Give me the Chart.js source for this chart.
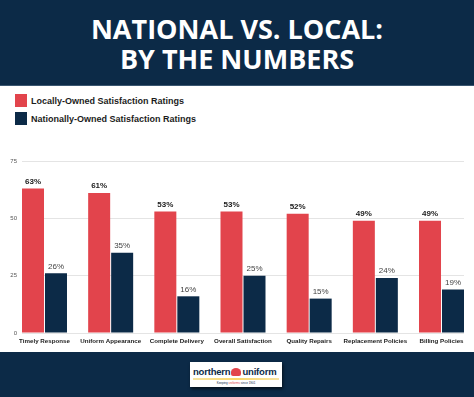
<!DOCTYPE html>
<html>
<head>
<meta charset="utf-8">
<script src="https://cdn.jsdelivr.net/npm/chart.js@4.4.1/dist/chart.umd.min.js"></script>
<style>
  body { margin: 0; width: 474px; height: 397px; position: relative; overflow: hidden; background: #fff; font-family: "Liberation Sans", Arial, sans-serif; }
  #header { position: absolute; left: 0; top: 0; width: 474px; height: 86px; background: #0c2a47; border-bottom: 1px solid #3a5670; box-sizing: border-box; }
  #header div { position: absolute; left: 0; width: 474px; text-align: center; color: #fff; font-family: "Open Sans", sans-serif; font-weight: 700; font-size: 27px; line-height: 30px; }
  #legend { position: absolute; left: 15px; top: 94px; }
  .item { position: relative; height: 18px; }
  .box { position: absolute; left: 0; top: 0; width: 12px; height: 13px; }
  .item span { position: absolute; left: 16px; top: 1px; font-size: 9px; font-weight: 700; color: #1c1c1c; white-space: nowrap; line-height: 12px; }
  #wrap { position: absolute; left: 0; top: 145px; width: 474px; height: 207px; }
  #footer { position: absolute; left: 0; top: 352px; width: 474px; height: 45px; background: #0c2a47; }
  #logo { position: absolute; left: 190px; top: 10px; width: 92px; height: 25px; background: #fff; box-shadow: 1px 2px 3px rgba(0,0,0,0.6); }
  #logo .name { position: absolute; left: 3px; top: 4px; font-size: 9.5px; font-weight: 700; color: #0c2a47; white-space: nowrap; letter-spacing: -0.2px; }
  #logo .mark { display: inline-block; width: 10px; height: 8px; background: #e2444c; border-radius: 50% 50% 2px 2px; margin: 0 1px; vertical-align: -1px; }
  #logo .strip { position: absolute; left: 3px; top: 16px; width: 86px; height: 2px; background: linear-gradient(90deg, #f6e3a0, #fbd66a, #f6e3a0); }
  #logo .tag { position: absolute; left: 0; top: 19px; width: 92px; text-align: center; font-size: 3px; color: #0c2a47; white-space: nowrap; }
</style>
</head>
<body>
<div id="header">
  <div style="top:14px">NATIONAL VS. LOCAL:</div>
  <div style="top:44px">BY THE NUMBERS</div>
</div>
<div id="legend">
  <div class="item"><div class="box" style="background:#e2444c"></div><span>Locally-Owned Satisfaction Ratings</span></div>
  <div class="item"><div class="box" style="background:#0c2a47"></div><span>Nationally-Owned Satisfaction Ratings</span></div>
</div>
<div id="wrap"><canvas id="chart" width="474" height="207"></canvas></div>
<div id="footer">
  <div id="logo">
    <div class="name">northern<span class="mark"></span>uniform</div>
    <div class="strip"></div>
    <div class="tag">Keeping <span style="color:#e2444c">uniforms</span> since 1901</div>
  </div>
</div>
<script>
var categories = ['Timely Response', 'Uniform Appearance', 'Complete Delivery', 'Overall Satisfaction', 'Quality Repairs', 'Replacement Policies', 'Billing Policies'];
var locallyOwned = [63, 61, 53, 53, 52, 49, 49];
var nationallyOwned = [26, 35, 16, 25, 15, 24, 19];
var yTicks = [0, 25, 50, 75];

var red = '#e2444c';
var navy = '#0c2a47';
var edge = 0.34; // half a bar pair, in category units

function points(values) {
    return values.map(function (v, i) { return { x: i, y: v }; });
}

// value labels above each bar
var valueLabels = {
    id: 'valueLabels',
    afterDatasetsDraw: function (chart) {
        var ctx = chart.ctx;
        ctx.save();
        ctx.textAlign = 'center';
        ctx.textBaseline = 'bottom';
        chart.data.datasets.forEach(function (ds, di) {
            var meta = chart.getDatasetMeta(di);
            ctx.font = (di === 0 ? 'bold ' : '') + '8px "Liberation Sans", Arial, sans-serif';
            ctx.fillStyle = di === 0 ? '#1b1b1b' : '#444';
            meta.data.forEach(function (bar, i) {
                ctx.fillText(ds.data[i].y + '%', bar.x, bar.y - 3);
            });
        });
        ctx.restore();
    }
};

var ctx = document.getElementById('chart').getContext('2d');
var myBarChart = new Chart(ctx, {
    type: 'bar',
    data: {
        datasets: [{
            label: 'Locally-Owned Satisfaction Ratings',
            data: points(locallyOwned),
            backgroundColor: red
        }, {
            label: 'Nationally-Owned Satisfaction Ratings',
            data: points(nationallyOwned),
            backgroundColor: navy
        }]
    },
    options: {
        responsive: false,
        animation: false,
        categoryPercentage: 0.695,
        barPercentage: 0.957,
        layout: { padding: { top: 16, right: 10, left: 0, bottom: 0 } },
        plugins: { legend: { display: false }, tooltip: { enabled: false } },
        scales: {
            x: {
                type: 'linear',
                offset: false,
                min: -edge,
                max: categories.length - 1 + edge,
                grid: { display: false, drawTicks: false, offset: false },
                border: { display: false },
                afterBuildTicks: function (scale) {
                    scale.ticks = categories.map(function (c, i) { return { value: i }; });
                    scale.min = -edge;
                    scale.max = categories.length - 1 + edge;
                },
                afterFit: function (scale) {
                    scale.height = 19;
                    scale.paddingLeft = 0;
                    scale.paddingRight = 0;
                },
                ticks: {
                    autoSkip: false,
                    maxRotation: 0,
                    padding: 5,
                    color: '#222',
                    font: { size: 6.2, weight: 'bold', family: '"Liberation Sans", Arial, sans-serif' },
                    callback: function (v) { return categories[v]; }
                }
            },
            y: {
                min: yTicks[0],
                max: yTicks[yTicks.length - 1],
                grid: { color: '#e4e4e4', drawTicks: false },
                border: { display: false },
                afterFit: function (scale) {
                    scale.width = 22;
                    scale.paddingTop = 0;
                    scale.paddingBottom = 0;
                },
                ticks: {
                    stepSize: 25,
                    padding: 5,
                    color: '#555',
                    font: { size: 6, family: '"Liberation Sans", Arial, sans-serif' }
                }
            }
        }
    },
    plugins: [valueLabels]
});
</script>
</body>
</html>
